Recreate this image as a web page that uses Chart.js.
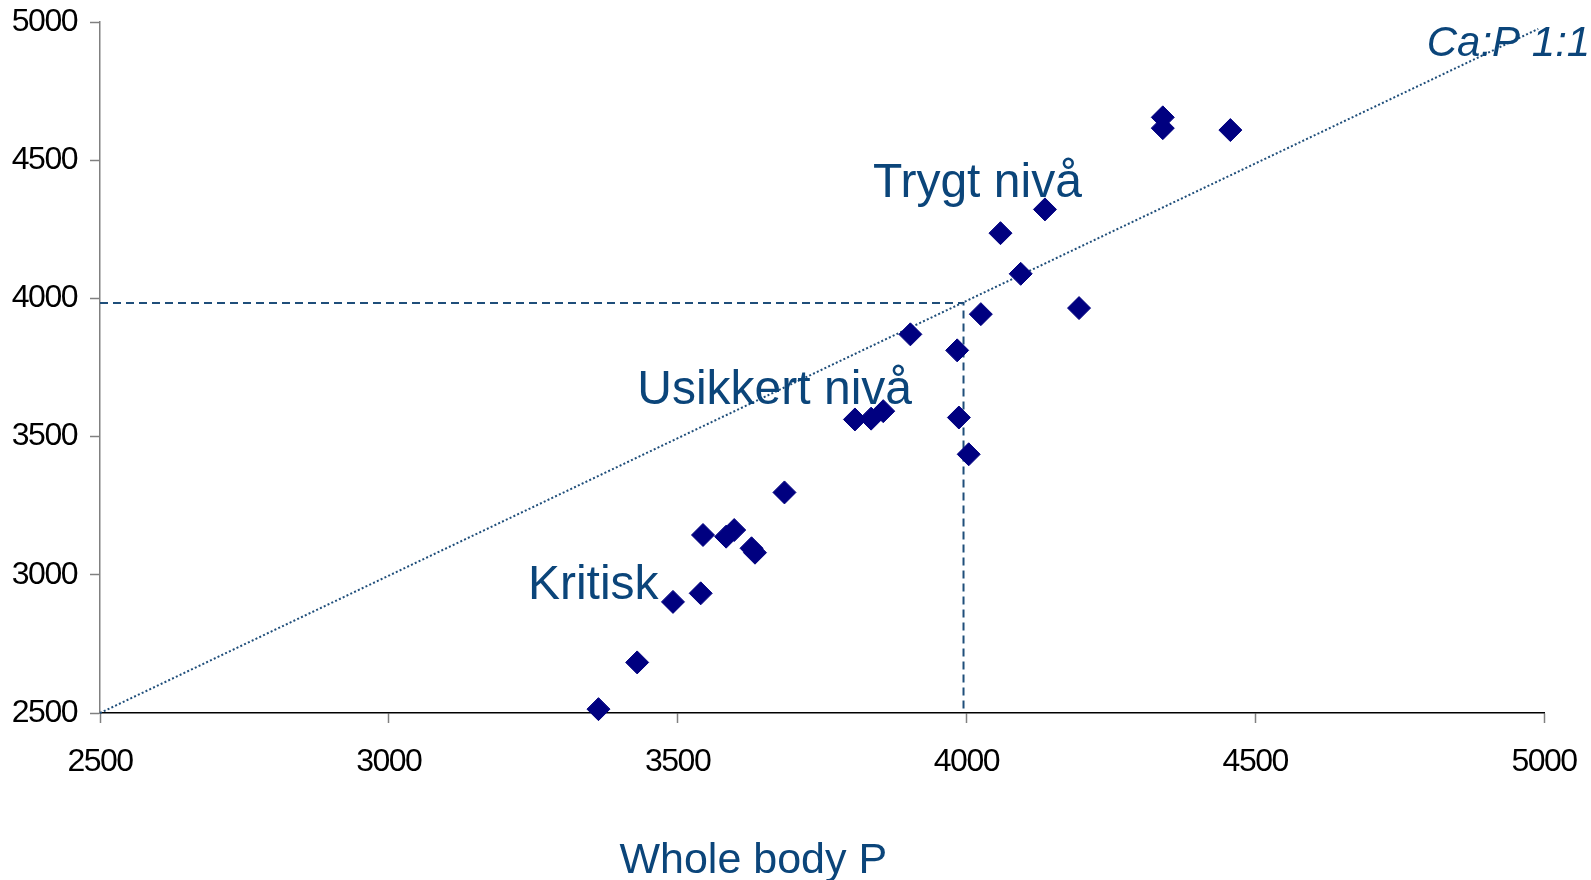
<!DOCTYPE html>
<html>
<head>
<meta charset="utf-8">
<script src="https://cdn.jsdelivr.net/npm/chart.js@4"></script>
<style>
  html, body { margin: 0; padding: 0; background: #fff; }
  canvas { display: block; }
</style>
</head>
<body>
<canvas id="caPChart" width="1591" height="880"></canvas>
<script>
// whole body P (x) vs whole body Ca (y)
const wholeBodyP  = [3363, 3430, 3492, 3540, 3544, 3584, 3598, 3628, 3634, 3685,
                     3807, 3835, 3856, 3903, 3984, 3987, 4004, 4025, 4059, 4094,
                     4136, 4195, 4340, 4340, 4457]
const wholeBodyCa = [2514, 2683, 2902, 2933, 3144, 3138, 3162, 3096, 3080, 3298,
                     3562, 3565, 3592, 3870, 3812, 3569, 3436, 3943, 4236, 4089,
                     4322, 3965, 4655, 4616, 4609]

// Ca:P 1:1 reference line and the critical-level guide
const ratioLineP  = [2500, 4990]
const ratioLineCa = [2500, 4975]
const guideP  = [2500, 3995, 3995]
const guideCa = [3983, 3983, 2500]

const axisMin = 2500
const axisMax = 5000
const axisStep = 500

const zoneLabels = ['Trygt nivå', 'Usikkert nivå', 'Kritisk']
const zoneLabelP  = [4019, 3668, 3354]
const zoneLabelCa = [4368, 3617, 2914]

const ratioText = 'Ca:P 1:1'
const xTitle = 'Whole body P'

const textBlue = '#0b457a'
const lineBlue = '#1f4e7a'

function toPoints(xs, ys) {
  return xs.map((x, i) => ({ x: x, y: ys[i] }))
}

// tick labels in the original are set tight, so squeeze the letters a bit
const tightTicks = {
  id: 'tightTicks',
  beforeDraw(chart) { chart.ctx.letterSpacing = '-1.5px' },
  beforeDatasetsDraw(chart) { chart.ctx.letterSpacing = '0px' }
}

const textPlugin = {
  id: 'chartTexts',
  afterDraw(chart) {
    const ctx = chart.ctx
    const xs = chart.scales.x
    const ys = chart.scales.y
    ctx.save()
    ctx.letterSpacing = '0px'
    ctx.fillStyle = textBlue
    ctx.textBaseline = 'alphabetic'

    ctx.font = '48px "Liberation Sans", Arial, sans-serif'
    ctx.textAlign = 'center'
    zoneLabels.forEach((t, i) => {
      ctx.fillText(t, xs.getPixelForValue(zoneLabelP[i]), ys.getPixelForValue(zoneLabelCa[i]))
    })

    ctx.font = 'italic 42px "Liberation Sans", Arial, sans-serif'
    ctx.textAlign = 'left'
    ctx.fillText(ratioText, xs.getPixelForValue(4797), ys.getPixelForValue(4878))

    ctx.font = '43px "Liberation Sans", Arial, sans-serif'
    ctx.textAlign = 'center'
    ctx.fillText(xTitle, xs.getPixelForValue(3631), ys.bottom + 160)
    ctx.restore()
  }
}

Chart.defaults.font.family = '"Liberation Sans", Arial, sans-serif'

const plainTick = (v) => String(v)

var ctx = document.getElementById('caPChart')
new Chart(ctx, {
  type: 'scatter',
  data: {
    datasets: [{
      data: toPoints(wholeBodyP, wholeBodyCa),
      pointStyle: 'rectRot',
      pointRadius: 11.5,
      borderWidth: 1,
      backgroundColor: '#000080',
      borderColor: '#000080',
      clip: false
    }, {
      data: toPoints(ratioLineP, ratioLineCa),
      showLine: true,
      pointRadius: 0,
      borderColor: lineBlue,
      borderWidth: 2,
      borderDash: [2, 2.2],
      clip: false
    }, {
      data: toPoints(guideP, guideCa),
      showLine: true,
      pointRadius: 0,
      borderColor: lineBlue,
      borderWidth: 2,
      borderDash: [8, 5],
      clip: false
    }]
  },
  options: {
    responsive: false,
    animation: false,
    events: [],
    layout: { padding: { top: 22, right: 47, left: 0, bottom: 0 } },
    plugins: {
      legend: { display: false },
      tooltip: { enabled: false }
    },
    scales: {
      x: {
        min: axisMin,
        max: axisMax,
        afterFit(scale) {
          scale.height = 167
          scale.paddingLeft = 0
          scale.paddingRight = 0
        },
        border: { color: '#000', width: 1.5 },
        grid: { drawOnChartArea: false, tickLength: 10, tickColor: '#808080', tickWidth: 1.5 },
        ticks: { stepSize: axisStep, color: '#000', font: { size: 32 }, padding: 20, maxRotation: 0, callback: plainTick }
      },
      y: {
        min: axisMin,
        max: axisMax,
        afterFit(scale) {
          scale.width = 100
          scale.paddingTop = 0
          scale.paddingBottom = 0
        },
        border: { color: '#808080', width: 1.5 },
        grid: { drawOnChartArea: false, tickLength: 10, tickColor: '#808080', tickWidth: 1.5 },
        ticks: { stepSize: axisStep, color: '#000', font: { size: 32 }, padding: 13, callback: plainTick }
      }
    }
  },
  plugins: [tightTicks, textPlugin]
})
</script>
</body>
</html>
